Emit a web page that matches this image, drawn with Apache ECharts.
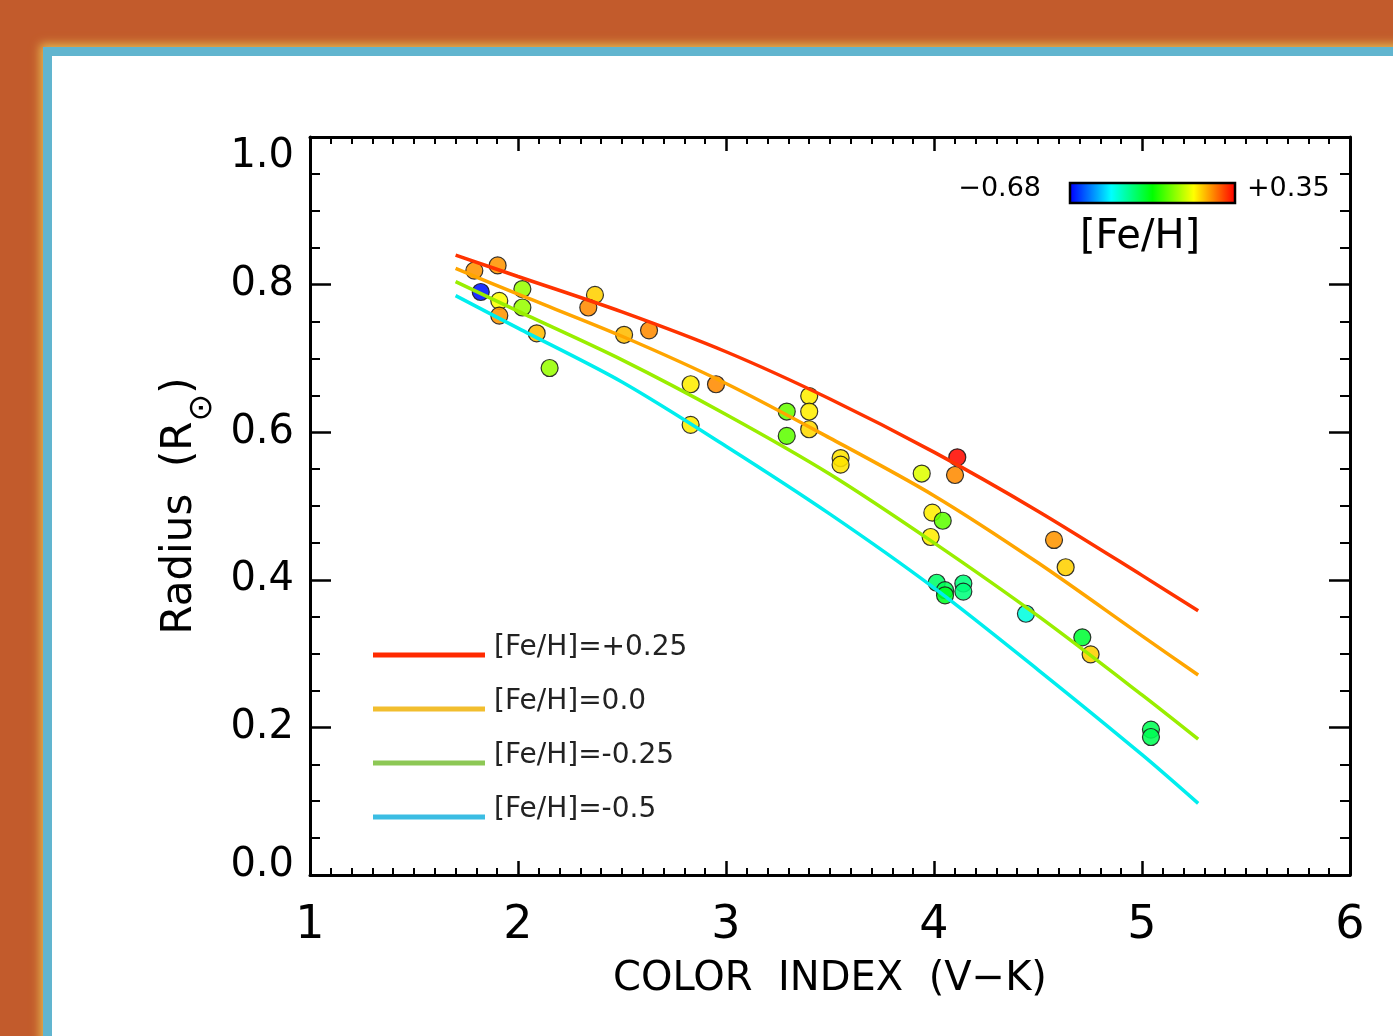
<!DOCTYPE html>
<html>
<head>
<meta charset="utf-8">
<title>Radius vs color index</title>
<script src="https://cdn.jsdelivr.net/npm/echarts@6/dist/echarts.min.js"></script>
<style>
	html, body { margin: 0; padding: 0; }
	body { width: 1393px; height: 1036px; background: #c25b2c; position: relative; overflow: hidden; }
	/* blue frame with yellow glow, white panel */
	#frame {
		position: absolute; left: 43px; top: 47px; width: 1400px; height: 1040px;
		background: #fff;
		border-left: 9px solid #61b5cf; border-top: 9px solid #61b5cf;
		box-shadow: 0 0 9px 3px #e3b850;
	}
	#chart { position: absolute; left: 0; top: 0; width: 1393px; height: 1036px; }
</style>
</head>
<body>
<div id="frame"></div>
<div id="chart"></div>
<script>
// 观测星：色指数 (V-K)、半径、金属丰度
const colorIndex = [1.790, 1.902, 1.821, 1.910, 1.910, 2.021, 2.021, 2.090, 2.152, 2.370,
	2.338, 2.510, 2.630, 2.830, 2.952, 2.830, 3.292, 3.292, 3.400, 3.400,
	3.400, 3.551, 3.551, 3.941, 4.112, 4.101, 3.992, 4.042, 3.984, 4.013,
	4.053, 4.053, 4.141, 4.141, 4.442, 4.577, 4.633, 4.713, 4.753, 5.043, 5.043];
const radius = [0.819, 0.826, 0.790, 0.778, 0.758, 0.794, 0.769, 0.734, 0.687, 0.786,
	0.769, 0.732, 0.738, 0.665, 0.665, 0.610, 0.628, 0.595, 0.649, 0.628,
	0.604, 0.565, 0.556, 0.544, 0.566, 0.542, 0.491, 0.480, 0.458, 0.396,
	0.386, 0.379, 0.395, 0.384, 0.354, 0.454, 0.417, 0.322, 0.299, 0.197, 0.187];
const feh = [0.20, 0.20, -0.66, 0.09, 0.20, -0.01, -0.01, 0.16, -0.01, 0.14,
	0.21, 0.16, 0.21, 0.11, 0.21, 0.11, -0.06, -0.07, 0.11, 0.11,
	0.13, 0.12, 0.12, 0.06, 0.34, 0.21, 0.11, -0.07, 0.11, -0.27,
	-0.25, -0.20, -0.29, -0.29, -0.39, 0.20, 0.14, -0.22, 0.14, -0.25, -0.25];

// 模型曲线（按 [Fe/H] 分组）
const curveX = [1.7, 2.0, 2.5, 3.0, 3.5, 4.0, 4.5, 5.0, 5.27];
const curveP025 = [0.840, 0.811, 0.763, 0.709, 0.645, 0.573, 0.493, 0.406, 0.358];
const curve000 = [0.822, 0.787, 0.730, 0.666, 0.592, 0.514, 0.423, 0.324, 0.271];
const curveM025 = [0.804, 0.764, 0.698, 0.624, 0.543, 0.450, 0.351, 0.244, 0.184];
const curveM050 = [0.785, 0.741, 0.668, 0.581, 0.489, 0.389, 0.278, 0.163, 0.097];
const curveNames = ['[Fe/H]=+0.25', '[Fe/H]=0.0', '[Fe/H]=-0.25', '[Fe/H]=-0.5'];

// 色标范围
const FEH_MIN = -0.68;
const FEH_MAX = 0.35;

const FONT = 'DejaVu Sans';
const lineColors = ['#ff3300', '#ffa500', '#99ee00', '#00eeee'];
const legendColors = ['#ff2a00', '#f2be2e', '#8dc855', '#3bbde3'];
// 图例线条画在图标框底部，文字略高于线条（两个极小的点撑开图标框）
const LEGEND_ICON = 'path://M0,0L0.01,0L0.01,0.01Z M116,0L116.01,0L116.01,0.01Z M0,14L112,14L112,19L0,19Z';

window.onload = function () {
	const chart = echarts.init(document.getElementById('chart'));

	const tickLine = { color: '#000', width: 2.5 };
	const axisLine = { show: true, onZero: false, lineStyle: { color: '#000', width: 3 } };

	function xAxis(pos, labels) {
		return {
			type: 'value', position: pos, min: 1, max: 6, interval: 1,
			axisLine: axisLine,
			axisTick: { show: true, inside: true, length: 14, lineStyle: tickLine },
			minorTick: { show: true, splitNumber: 10, length: 7, lineStyle: { color: '#000', width: 2 } },
			splitLine: { show: false },
			minorSplitLine: { show: false },
			axisLabel: {
				show: labels, color: '#000', fontFamily: FONT, fontSize: 46, margin: 28
			}
		};
	}
	function yAxis(pos, labels) {
		return {
			type: 'value', position: pos, min: 0, max: 1, interval: 0.2,
			axisLine: axisLine,
			axisTick: { show: true, inside: true, length: 21, lineStyle: tickLine },
			minorTick: { show: true, splitNumber: 4, length: 10, lineStyle: { color: '#000', width: 2 } },
			splitLine: { show: false },
			minorSplitLine: { show: false },
			axisLabel: {
				show: labels, color: '#000', fontFamily: FONT, fontSize: 40, margin: 16,
				lineHeight: 18,
				padding: [11, 0, 0, 0],
				formatter: v => v.toFixed(1),
				verticalAlignMinLabel: 'bottom',
				verticalAlignMaxLabel: 'top'
			}
		};
	}

	const xBottom = xAxis('bottom', true);
	xBottom.name = 'COLOR  INDEX  (V\u2212K)';
	xBottom.nameLocation = 'middle';
	xBottom.nameGap = 85;
	xBottom.nameMoveOverlap = false;
	xBottom.nameTextStyle = { color: '#000', fontFamily: FONT, fontSize: 40 };

	const yLeft = yAxis('left', true);
	yLeft.name = '{n|Radius  (R}{s|\u2299}{n|)}';
	yLeft.nameLocation = 'middle';
	yLeft.nameRotate = 90;
	yLeft.nameGap = 91;
	yLeft.nameMoveOverlap = false;
	yLeft.nameTextStyle = {
		color: '#000',
		rich: {
			n: { fontFamily: FONT, fontSize: 42, color: '#000' },
			s: { fontFamily: FONT, fontSize: 33, color: '#000', padding: [44, 0, 0, 0] }
		}
	};

	const curves = [curveP025, curve000, curveM025, curveM050];

	const series = curves.map((c, i) => ({
		type: 'line',
		name: curveNames[i],
		data: curveX.map((x, j) => [x, c[j]]),
		symbol: 'none',
		smooth: 0.3,
		silent: true,
		z: 3,
		itemStyle: { color: lineColors[i] },
		lineStyle: { color: lineColors[i], width: 3.5 }
	}));

	series.push({
		type: 'scatter',
		name: 'stars',
		data: colorIndex.map((x, i) => [x, radius[i], feh[i]]),
		symbolSize: 17,
		z: 2,
		itemStyle: { borderColor: '#1a1a1a', borderWidth: 1.2, opacity: 0.88 }
	});

	const fmt = v => (v < 0 ? '\u2212' : '+') + Math.abs(v).toFixed(2);

	chart.setOption({
		animation: false,
		backgroundColor: 'transparent',
		grid: { left: 310, right: 43, top: 137, bottom: 161 },
		xAxis: [xBottom, xAxis('top', false)],
		yAxis: [yLeft, yAxis('right', false)],
		legend: {
			orient: 'vertical',
			left: 373,
			top: 634,
			padding: 0,
			itemGap: 26,
			itemWidth: 116,
			itemHeight: 19,
			icon: LEGEND_ICON,
			selectedMode: false,
			textStyle: { fontFamily: FONT, fontSize: 28, color: '#222' },
			data: curveNames.map((n, i) => ({ name: n, itemStyle: { color: legendColors[i], borderWidth: 0 } }))
		},
		visualMap: {
			type: 'continuous',
			min: FEH_MIN,
			max: FEH_MAX,
			dimension: 2,
			seriesIndex: 4,
			orient: 'horizontal',
			left: 1070,
			top: 183,
			padding: 0,
			itemWidth: 20,
			itemHeight: 165,
			calculable: false,
			hoverLink: false,
			inRange: { color: ['#0000ff', '#00ffff', '#00ff00', '#ffff00', '#ff0000'] }
		},
		graphic: [
			{
				type: 'rect', z: 100, silent: true,
				shape: { x: 1070, y: 183, width: 165, height: 20 },
				style: { fill: 'transparent', stroke: '#000', lineWidth: 2.5 }
			},
			{
				type: 'text', z: 100, silent: true,
				style: { x: 1041, y: 189, text: fmt(FEH_MIN), font: '27px ' + FONT, fill: '#000', align: 'right', verticalAlign: 'middle' }
			},
			{
				type: 'text', z: 100, silent: true,
				style: { x: 1247, y: 189, text: fmt(FEH_MAX), font: '27px ' + FONT, fill: '#000', align: 'left', verticalAlign: 'middle' }
			},
			{
				type: 'text', z: 100, silent: true,
				style: { x: 1140, y: 238, text: '[Fe/H]', font: '40px ' + FONT, fill: '#000', align: 'center', verticalAlign: 'middle' }
			}
		],
		series: series
	});
};
</script>
</body>
</html>
